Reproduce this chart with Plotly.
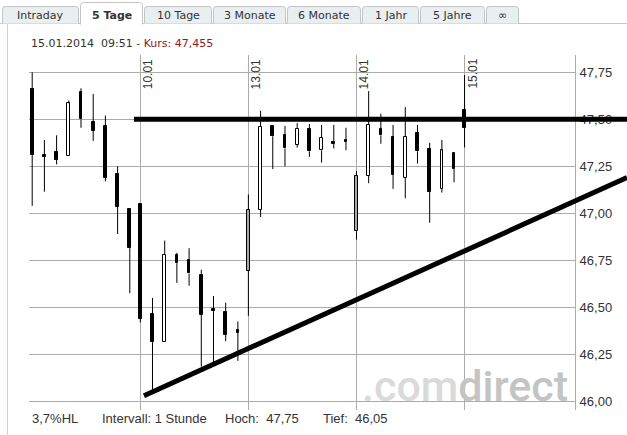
import plotly.graph_objects as go

# ---------------- data ----------------
DAYS = ["09.01", "10.01", "13.01", "14.01", "15.01"]
CANDLES_PER_DAY = [9, 9, 9, 9, 1]
OPEN = [47.66, 47.31, 47.325, 47.305, 47.645, 47.485, 47.465, 47.21, 47.025,
        47.05, 46.465, 46.315, 46.78, 46.75, 46.67, 46.49, 46.475, 46.38,
        46.695, 47.02, 47.465, 47.415, 47.365, 47.45, 47.335, 47.38, 47.39,
        46.905, 47.20, 47.45, 47.405, 47.19, 47.425, 47.34, 47.13, 47.32,
        47.55]
HIGH = [47.75, 47.39, 47.415, 47.60, 47.665, 47.635, 47.52, 47.25, 47.025,
        47.05, 46.55, 46.855, 46.79, 46.815, 46.70, 46.56, 46.525, 46.425,
        47.10, 47.545, 47.465, 47.465, 47.48, 47.475, 47.47, 47.47, 47.455,
        47.225, 47.65, 47.53, 47.47, 47.565, 47.47, 47.375, 47.39, 47.32,
        47.735]
LOW = [47.04, 47.115, 47.26, 47.305, 47.455, 47.385, 47.17, 46.89, 46.575,
       46.42, 46.05, 46.315, 46.63, 46.615, 46.185, 46.205, 46.32, 46.215,
       46.455, 46.98, 47.235, 47.25, 47.35, 47.30, 47.27, 47.345, 47.335,
       46.86, 47.16, 47.37, 47.13, 47.08, 47.265, 46.95, 47.11, 47.165,
       47.35]
CLOSE = [47.31, 47.30, 47.285, 47.585, 47.50, 47.44, 47.19, 47.035, 46.815,
         46.44, 46.315, 46.78, 46.735, 46.68, 46.46, 46.48, 46.355, 46.365,
         47.02, 47.46, 47.41, 47.345, 47.45, 47.33, 47.40, 47.37, 47.38,
         47.20, 47.47, 47.415, 47.205, 47.405, 47.33, 47.115, 47.335, 47.235,
         47.455]
Y_TICKS = [46.00, 46.25, 46.50, 46.75, 47.00, 47.25, 47.50, 47.75]

RESISTANCE_T = [8.34, 48.8]
RESISTANCE_Y = [47.50, 47.50]
SUPPORT_T = [9.16, 48.754]
SUPPORT_Y = [46.03, 47.19]

TABS = ["Intraday", "5 Tage", "10 Tage", "3 Monate", "6 Monate", "1 Jahr", "5 Jahre", "\u221e"]
ACTIVE_TAB = 1
HEADER_DATE = "15.01.2014"
HEADER_TIME = "09:51"
HEADER_KURS = "47,455"
STATS = ["3,7%HL", "Intervall: 1 Stunde", "Hoch:\u00a0\u00a047,75", "Tief:\u00a0\u00a046,05"]
WATERMARK = [".com", "direct"]

# ---------------- layout geometry ----------------
W, H = 627, 435
PL, PT, PB = 29, 55, 410          # plot left / top / bottom (px)
PR_MAIN = 575                      # right edge of the price panel (px)
PAPER_W = W - PL
PAPER_H = PB - PT
DAY_SPAN = 8.86                    # hour-units per trading day (incl. overnight gap)
PX_PER_UNIT = 12.2
X0 = -0.262
Y_RANGE = [45.954, 47.842]


def px(x):
    return (x - PL) / PAPER_W


def py(y):
    return (PB - y) / PAPER_H


# candle positions
xs, first_of_day = [], []
for d, n in enumerate(CANDLES_PER_DAY):
    for h in range(n):
        xs.append(d * DAY_SPAN + h)
        first_of_day.append(h == 0 and d > 0)

fig = go.Figure()

# wicks (drawn outside the bodies)
wx, wy = [], []
for x, o, hi, lo, c in zip(xs, OPEN, HIGH, LOW, CLOSE):
    top, bot = max(o, c), min(o, c)
    if hi > top:
        wx += [x, x, None]
        wy += [top, hi, None]
    if lo < bot:
        wx += [x, x, None]
        wy += [lo, bot, None]
fig.add_trace(go.Scatter(x=wx, y=wy, mode="lines", line=dict(color="black", width=1),
                         hoverinfo="skip", showlegend=False))

# bodies
groups = {"fall": [], "rise": [], "gap": []}
for i, (o, c) in enumerate(zip(OPEN, CLOSE)):
    if c < o:
        groups["fall"].append(i)
    elif first_of_day[i]:
        groups["gap"].append(i)
    else:
        groups["rise"].append(i)
fills = {"fall": "black", "rise": "white", "gap": "#a9a9a9"}
for k, idx in groups.items():
    fig.add_trace(go.Bar(
        x=[xs[i] for i in idx],
        base=[min(OPEN[i], CLOSE[i]) for i in idx],
        y=[max(abs(CLOSE[i] - OPEN[i]), 0.006) for i in idx],
        width=0.22,
        marker=dict(color=fills[k], line=dict(color="black", width=1)),
        hoverinfo="skip", showlegend=False))

# trend lines on a wider overlay subplot
fig.add_trace(go.Scatter(x=RESISTANCE_T, y=RESISTANCE_Y, mode="lines",
                         line=dict(color="black", width=5), xaxis="x2", yaxis="y2",
                         hoverinfo="skip", showlegend=False))
fig.add_trace(go.Scatter(x=SUPPORT_T, y=SUPPORT_Y, mode="lines",
                         line=dict(color="black", width=5), xaxis="x2", yaxis="y2",
                         hoverinfo="skip", showlegend=False))

GRID = "#ababab"
TXT = "#333333"
main_w = PR_MAIN - PL

fig.update_layout(
    width=W, height=H, autosize=False,
    margin=dict(l=PL, r=0, t=PT, b=H - PB, pad=0),
    paper_bgcolor="white", plot_bgcolor="rgba(0,0,0,0)",
    separators=",.",
    barmode="overlay", bargap=0,
    xaxis=dict(domain=[0, main_w / PAPER_W], range=[X0, X0 + main_w / PX_PER_UNIT],
               tickvals=[d * DAY_SPAN for d in range(1, len(DAYS))],
               showticklabels=False, ticks="", showgrid=True, gridcolor=GRID, gridwidth=1,
               zeroline=False, showline=False, fixedrange=True),
    yaxis=dict(range=Y_RANGE, side="right", tickvals=Y_TICKS, tickformat=".2f",
               showgrid=True, gridcolor=GRID, gridwidth=1, zeroline=False,
               showline=True, linecolor=GRID, linewidth=1, ticks="",
               ticklabelstandoff=1,
               tickfont=dict(family="Liberation Sans, Arial", size=13, color=TXT),
               fixedrange=True),
    xaxis2=dict(domain=[0, 1], range=[X0, X0 + PAPER_W / PX_PER_UNIT], anchor="y2",
                visible=False, fixedrange=True),
    yaxis2=dict(domain=[0, 1], range=Y_RANGE, anchor="x2", visible=False, fixedrange=True),
    hovermode=False,
)

shapes = []
annotations = []

# page frame
shapes.append(dict(type="line", xref="paper", yref="paper", x0=px(0), x1=px(W), y0=py(23.5), y1=py(23.5),
                   line=dict(color="#c8c8c8", width=1)))
shapes.append(dict(type="line", xref="paper", yref="paper", x0=px(7.5), x1=px(7.5), y0=py(23.5), y1=py(H),
                   line=dict(color="#d0d0d0", width=1)))

# tabs
TAB_EDGES = [(2, 78), (80, 142), (144, 211), (213, 285), (287, 360), (362, 418), (420, 484), (486, 518)]


def tab_path(x0, x1, y0, y1, r=3, closed=True):
    p = (f"M {px(x0)},{py(y1)} L {px(x0)},{py(y0 + r)} Q {px(x0)},{py(y0)} {px(x0 + r)},{py(y0)} "
         f"L {px(x1 - r)},{py(y0)} Q {px(x1)},{py(y0)} {px(x1)},{py(y0 + r)} L {px(x1)},{py(y1)}")
    if closed:
        p += " Z"
    return p


for i, (label, (a, b)) in enumerate(zip(TABS, TAB_EDGES)):
    active = i == ACTIVE_TAB
    y0 = 2 if active else 6
    y1 = 24.5 if active else 23.5
    shapes.append(dict(type="path", xref="paper", yref="paper",
                       path=tab_path(a, b, y0, y1),
                       fillcolor="white" if active else "#e9eef0",
                       line=dict(width=0)))
    shapes.append(dict(type="path", xref="paper", yref="paper",
                       path=tab_path(a + 0.5, b + 0.5, y0 + 0.5, y1, closed=False),
                       line=dict(color="#c4c4c4", width=1)))
    annotations.append(dict(xref="paper", yref="paper", x=px((a + b) / 2 + 0.5), y=py(15.5),
                            xanchor="center", yanchor="middle", showarrow=False,
                            text=f"<b>{label}</b>" if active else label,
                            font=dict(family="DejaVu Sans, Verdana", size=11, color=TXT)))

# header
annotations.append(dict(
    xref="paper", yref="paper", x=px(28.5), y=py(43.5), xanchor="left", yanchor="middle",
    showarrow=False,
    text=f"{HEADER_DATE}\u00a0\u00a0{HEADER_TIME}\u00a0<span style='color:#8b1c1c'>- Kurs: {HEADER_KURS}</span>",
    font=dict(family="DejaVu Sans, Verdana", size=11, color=TXT)))

# day labels (rotated)
for d in range(1, len(DAYS)):
    annotations.append(dict(xref="x", yref="paper", x=d * DAY_SPAN, y=py(57),
                            xanchor="left", yanchor="top", xshift=-1, showarrow=False,
                            textangle=-90, text=DAYS[d],
                            font=dict(family="Liberation Sans, Arial", size=12, color=TXT)))

# watermark
annotations.append(dict(
    xref="paper", yref="paper", x=px(360), y=py(386), xanchor="left", yanchor="middle",
    showarrow=False,
    text=f"<span style='color:#dadada'>{WATERMARK[0]}</span><span style='color:#c4c4c4'>{WATERMARK[1]}</span>",
    font=dict(family="Roboto", size=43, weight=500)))

# stats row
for label, x in zip(STATS, [29.5, 99.5, 223, 321]):
    annotations.append(dict(xref="paper", yref="paper", x=px(x), y=py(418.5), xanchor="left",
                            yanchor="middle", showarrow=False, text=label,
                            font=dict(family="Liberation Sans, Arial", size=13, color=TXT)))

fig.update_layout(shapes=shapes, annotations=annotations)

fig.write_html("out.html", config={"displayModeBar": False},
               post_script="document.body.style.margin='0';")
